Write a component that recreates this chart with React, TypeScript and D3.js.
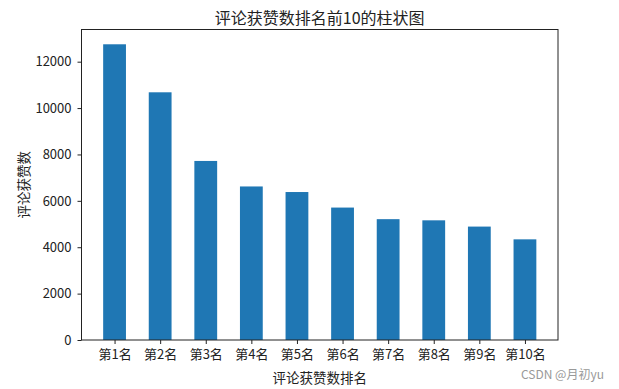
import React, { useRef, useEffect } from "react";
import * as d3 from "d3";

const ranks = ["第1名", "第2名", "第3名", "第4名", "第5名", "第6名", "第7名", "第8名", "第9名", "第10名"];
const likes = [12750, 10680, 7720, 6620, 6380, 5710, 5210, 5160, 4890, 4340];
const yTicks = [0, 2000, 4000, 6000, 8000, 10000, 12000];

const FONT = "'Noto Sans CJK SC', 'Noto Sans', sans-serif";

export default function App() {
  const ref = useRef<HTMLDivElement>(null);

  useEffect(() => {
    if (!ref.current) return;
    const container = d3.select(ref.current);
    container.selectAll("*").remove();

    const W = 619;
    const H = 389;
    const margin = { top: 29.5, right: 61, bottom: 49, left: 81.5 };
    const width = W - margin.left - margin.right;
    const height = H - margin.top - margin.bottom;

    const svg = container
      .append("svg")
      .attr("width", W)
      .attr("height", H)
      .style("position", "absolute")
      .style("left", "0px")
      .style("top", "0px")
      .style("background", "#fff");

    const g = svg
      .append("g")
      .attr("transform", `translate(${margin.left},${margin.top})`);

    // x: matplotlib-like, bar width 0.5, 5% margins
    const n = ranks.length;
    const x = d3
      .scaleLinear()
      .domain([-0.725, n - 1 + 0.725])
      .range([0, width]);
    const ymax = d3.max(likes)! * 1.05;
    const y = d3.scaleLinear().domain([0, ymax]).range([height, 0]);

    // bars
    g.selectAll("rect.bar")
      .data(likes)
      .enter()
      .append("rect")
      .attr("class", "bar")
      .attr("x", (_, i) => x(i - 0.25))
      .attr("width", x(0.25) - x(-0.25))
      .attr("y", (d) => y(d))
      .attr("height", (d) => height - y(d))
      .attr("fill", "#1f77b4");

    // y axis
    const yAxis = g
      .append("g")
      .call(
        d3
          .axisLeft(y)
          .tickValues(yTicks)
          .tickSize(4)
          .tickPadding(6)
          .tickFormat((d) => String(d))
      );
    yAxis.select(".domain").remove();
    yAxis.selectAll("line").attr("stroke", "#222");
    yAxis
      .selectAll("text")
      .attr("font-size", 13)
      .attr("font-family", FONT)
      .attr("fill", "#222");

    // x axis
    const xAxis = g
      .append("g")
      .attr("transform", `translate(0,${height})`)
      .call(
        d3
          .axisBottom(x)
          .tickValues(d3.range(n))
          .tickSize(4)
          .tickPadding(6)
          .tickFormat((d) => ranks[d as number])
      );
    xAxis.select(".domain").remove();
    xAxis.selectAll("line").attr("stroke", "#222");
    xAxis
      .selectAll("text")
      .attr("font-size", 13)
      .attr("font-family", FONT)
      .attr("fill", "#222");

    // frame
    g.append("rect")
      .attr("width", width)
      .attr("height", height)
      .attr("fill", "none")
      .attr("stroke", "#222")
      .attr("stroke-width", 1);

    // title
    svg
      .append("text")
      .attr("x", margin.left + width / 2)
      .attr("y", 17)
      .attr("text-anchor", "middle")
      .attr("dominant-baseline", "central")
      .attr("font-size", 16)
      .attr("font-family", FONT)
      .attr("fill", "#222")
      .text("评论获赞数排名前10的柱状图");

    // axis labels
    svg
      .append("text")
      .attr("x", margin.left + width / 2)
      .attr("y", 377)
      .attr("text-anchor", "middle")
      .attr("dominant-baseline", "central")
      .attr("font-size", 13.5)
      .attr("font-family", FONT)
      .attr("fill", "#222")
      .text("评论获赞数排名");

    svg
      .append("text")
      .attr("transform", `translate(22.5,${margin.top + height / 2}) rotate(-90)`)
      .attr("text-anchor", "middle")
      .attr("dominant-baseline", "central")
      .attr("font-size", 13.5)
      .attr("font-family", FONT)
      .attr("fill", "#222")
      .text("评论获赞数");

    // watermark
    svg
      .append("text")
      .attr("x", 604)
      .attr("y", 373)
      .attr("text-anchor", "end")
      .attr("dominant-baseline", "central")
      .attr("font-size", 12)
      .attr("font-family", FONT)
      .attr("fill", "#999")
      .text("CSDN @月初yu");
  }, []);

  return <div ref={ref} />;
}
